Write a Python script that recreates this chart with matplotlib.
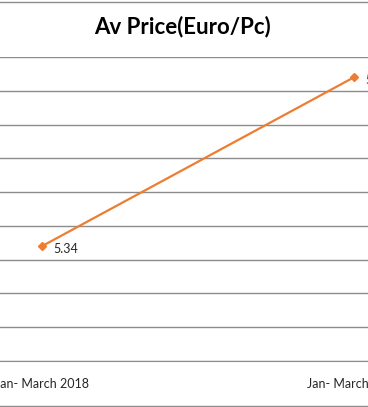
import matplotlib
matplotlib.use("Agg")
import matplotlib.pyplot as plt
from matplotlib.lines import Line2D

# data
periods = ["Jan- March 2018", "Jan- March 2019"]
prices = [5.34, 5.84]
y_ticks = [5.0, 5.1, 5.2, 5.3, 5.4, 5.5, 5.6, 5.7, 5.8, 5.9]

plt.rcParams['font.family'] = ['Lato', 'DejaVu Sans']

fig = plt.figure(figsize=(3.68, 4.07), dpi=100)

# the reference is a crop of a wider chart, so the axes run past the figure edges
ax = fig.add_axes([-114 / 368, 46 / 407, 624 / 368, 304 / 407])
x = list(range(len(periods)))
ax.plot(x, prices, color="#ED7D31", lw=1.6, marker="D", ms=4, zorder=3)
ax.set_xlim(-0.5, len(periods) - 0.5)
ax.set_ylim(y_ticks[0], y_ticks[-1])
ax.set_yticks(y_ticks)
ax.yaxis.grid(True, color="#8c8c8c", lw=1)
ax.set_axisbelow(True)
ax.tick_params(axis="y", left=False, labelleft=False)
ax.tick_params(axis="x", bottom=False, labelsize=9, labelcolor="#262626", pad=9)
ax.set_xticks(x)
ax.set_xticklabels(periods)
for s in ["left", "right", "top"]:
    ax.spines[s].set_visible(False)
ax.spines["bottom"].set_color("#8c8c8c")

for xi, v in zip(x, prices):
    ax.annotate(f"{v:.2f}", (xi, v), xytext=(8, -2), textcoords="offset points",
                fontsize=9, color="#262626", va="center", ha="left")

fig.text(0.497, 1 - 27 / 407, "Av Price(Euro/Pc)", ha="center", va="center",
         fontsize=16, fontweight="bold", color="black")

# chart border lines
fig.add_artist(Line2D([0, 1], [1 - 1.5 / 407, 1 - 1.5 / 407], color="#8c8c8c", lw=1))
fig.add_artist(Line2D([0, 1], [1.5 / 407, 1.5 / 407], color="#8c8c8c", lw=1))

fig.savefig("out.png", dpi=100)
